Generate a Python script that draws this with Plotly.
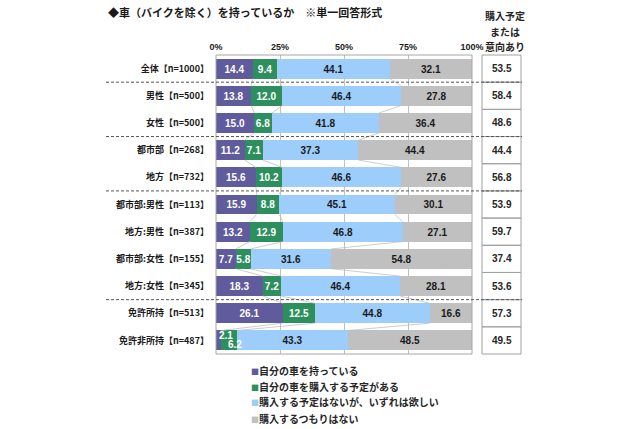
import plotly.graph_objects as go

categories = ['全体【n=1000】', '男性【n=500】', '女性【n=500】', '都市部【n=268】', '地方【n=732】',
              '都市部:男性【n=113】', '地方:男性【n=387】', '都市部:女性【n=155】', '地方:女性【n=345】',
              '免許所持【n=513】', '免許非所持【n=487】']
series_names = ['自分の車を持っている', '自分の車を購入する予定がある',
                '購入する予定はないが、いずれは欲しい', '購入するつもりはない']
own = [14.4, 13.8, 15.0, 11.2, 15.6, 15.9, 13.2, 7.7, 18.3, 26.1, 2.1]
plan = [9.4, 12.0, 6.8, 7.1, 10.2, 8.8, 12.9, 5.8, 7.2, 12.5, 6.2]
want = [44.1, 46.4, 41.8, 37.3, 46.6, 45.1, 46.8, 31.6, 46.4, 44.8, 43.3]
never = [32.1, 27.8, 36.4, 44.4, 27.6, 30.1, 27.1, 54.8, 28.1, 16.6, 48.5]
intent = [53.5, 58.4, 48.6, 44.4, 56.8, 53.9, 59.7, 37.4, 53.6, 57.3, 49.5]
x_ticks = [0, 25, 50, 75, 100]
x_ticklabels = ['0%', '25%', '50%', '75%', '100%']
group_breaks = [0.5, 2.5, 4.5, 8.5]
header_lines = ['購入予定', 'または', '意向あり']
title = '◆車（バイクを除く）を持っているか　※単一回答形式'

colors = ['#5F5B9D', '#2E8F5E', '#9DCDFB', '#C0C0C0']
text_colors = ['white', 'white', '#1a1a1a', '#1a1a1a']
FONT = 'Liberation Sans, Noto Sans CJK JP, sans-serif'
BOLD_JP = 'Noto Sans CJK JP, sans-serif'

W, H = 638, 429
ML, MR, MT, MB = 216, 166, 55, 75
PW = W - ML - MR
PH = H - MT - MB


def px2x(px):
    return (px - ML) / PW


def py2y(py):
    return (H - MB - py) / PH


ypos = list(range(len(categories)))
BW = 0.73
small_row = len(categories) - 1  # row with tiny segments, labelled separately

fig = go.Figure()
all_vals = [own, plan, want, never]
for k, (name, vals) in enumerate(zip(series_names, all_vals)):
    texts = []
    for i, v in enumerate(vals):
        if i == small_row and k < 2:
            texts.append('')
        else:
            texts.append(f'{v:.1f}')
    fig.add_trace(go.Bar(
        x=vals, y=ypos, orientation='h', name=name, width=BW,
        marker=dict(color=colors[k], line=dict(width=0)),
        text=texts, textposition='inside', insidetextanchor='middle',
        textangle=0, constraintext='none',
        textfont=dict(family=FONT, size=10, color=text_colors[k], weight='bold'),
        hoverinfo='skip', showlegend=False,
    ))

# series lines between consecutive bars
cum = []
run = [0.0] * len(categories)
for vals in all_vals[:3]:
    run = [r + v for r, v in zip(run, vals)]
    cum.append(list(run))
lx, ly = [], []
for c in cum:
    for i in range(len(categories) - 1):
        lx += [c[i], c[i + 1], None]
        ly += [i + BW / 2, i + 1 - BW / 2, None]
fig.add_trace(go.Scatter(x=lx, y=ly, mode='lines', line=dict(color='#BFBFBF', width=0.8),
                         hoverinfo='skip', showlegend=False))

annotations = []
# tiny segment labels for the last row (staggered as in the original)
annotations.append(dict(x=0, y=small_row - 0.17, xref='x', yref='y',
                        xanchor='left', yanchor='middle', xshift=1,
                        text=f'{own[small_row]:.1f}', showarrow=False,
                        font=dict(family=FONT, size=10, color='white', weight='bold')))
annotations.append(dict(x=own[small_row], y=small_row + 0.16, xref='x', yref='y',
                        xanchor='left', yanchor='middle', xshift=5,
                        text=f'{plan[small_row]:.1f}', showarrow=False,
                        font=dict(family=FONT, size=10, color='white', weight='bold')))

shapes = []
# plot border
shapes.append(dict(type='rect', xref='paper', yref='paper', x0=0, x1=1, y0=0, y1=1,
                   line=dict(color='#A6A6A6', width=1), layer='above'))
# right column cells
cx0, cx1 = px2x(482), px2x(521)
n = len(categories)
for i, v in enumerate(intent):
    shapes.append(dict(type='rect', xref='paper', yref='paper', x0=cx0, x1=cx1,
                       y0=1 - (i + 1) / n, y1=1 - i / n,
                       line=dict(color='#A0A0A0', width=1), layer='above'))
    annotations.append(dict(x=(cx0 + cx1) / 2, y=i, xref='paper', yref='y', text=f'{v:.1f}',
                            xanchor='center', yanchor='middle', showarrow=False,
                            font=dict(family=FONT, size=10, color='#262626', weight='bold')))
# dashed group separators
for b in group_breaks:
    shapes.append(dict(type='line', xref='paper', yref='y', x0=px2x(106), x1=px2x(522), y0=b, y1=b,
                       line=dict(color='#555555', width=1, dash='3px,2px'), layer='above'))

# header of the right column
for j, (line, py) in enumerate(zip(header_lines, [15, 31, 46])):
    annotations.append(dict(x=px2x(505), y=py2y(py), xref='paper', yref='paper', text=line,
                            showarrow=False, align='center', xanchor='center', yanchor='middle',
                            font=dict(family=BOLD_JP, size=10, color='#262626', weight='bold')))

# legend as annotations
leg_y = [370, 386, 402, 418]
for k, name in enumerate(series_names):
    annotations.append(dict(
        x=px2x(249), y=py2y(leg_y[k]), xref='paper', yref='paper', xanchor='left', yanchor='middle',
        text=f"<span style='color:{colors[k]};font-size:8px'>■</span>{name}", showarrow=False,
        font=dict(family=BOLD_JP, size=10, color='#262626', weight='bold')))

fig.update_layout(
    template='none',
    width=W, height=H, barmode='stack', bargap=0,
    margin=dict(l=ML, r=MR, t=MT, b=MB, autoexpand=False),
    paper_bgcolor='white', plot_bgcolor='white',
    title=dict(text=title, x=108 / W, y=1 - 13 / H, xanchor='left', yanchor='middle',
               font=dict(family=BOLD_JP, size=11, color='#1a1a1a', weight='bold')),
    xaxis=dict(range=[0, 100], side='top', tickvals=x_ticks, ticktext=x_ticklabels,
               showgrid=True, gridcolor='#BFBFBF', gridwidth=1, zeroline=False, automargin=False,
               ticks='', showline=False, ticklabelstandoff=2,
               tickfont=dict(family=FONT, size=9, color='#1a1a1a', weight='bold')),
    yaxis=dict(range=[n - 0.5, -0.5], tickvals=ypos, ticktext=categories,
               showgrid=False, zeroline=False, ticks='', showline=False, ticklabelstandoff=6,
               automargin=False,
               tickfont=dict(family=BOLD_JP, size=9, color='#1a1a1a', weight='bold')),
    shapes=shapes, annotations=annotations, showlegend=False,
)

fig.write_html('out.html', config={'displayModeBar': False},
               post_script="document.body.style.margin='0';document.body.style.padding='0';")
